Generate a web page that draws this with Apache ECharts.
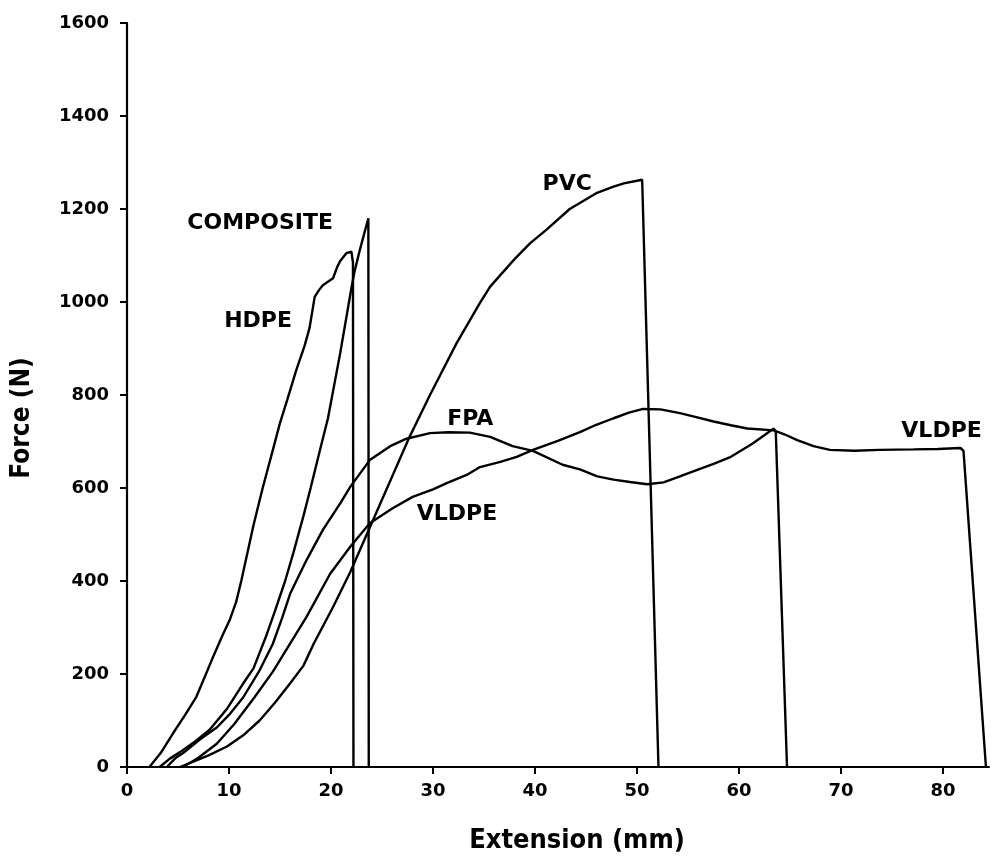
<!DOCTYPE html>
<html>
<head>
<meta charset="utf-8">
<script src="https://cdn.jsdelivr.net/npm/echarts@6/dist/echarts.min.js"></script>
<style>
  html, body { margin: 0; padding: 0; background: #ffffff; }
  #chart { width: 992px; height: 865px; }
</style>
</head>
<body>
<div id="chart"></div>
<script>
// ---- data (extension mm, force N) ----
const hdpe = [
  [2.2,0],[3.3,30],[4.5,72],[5.7,112],[6.8,151],[7.7,198],[8.5,240],[9.3,280],[10.1,318],
  [10.7,355],[11.2,400],[11.7,450],[12.4,520],[13.3,600],[14.3,682],[15.0,740],[15.7,789],
  [16.6,854],[17.4,905],[17.9,945],[18.4,1011],[18.8,1025],[19.2,1036],[19.8,1045],[20.2,1051],
  [20.6,1075],[20.9,1088],[21.5,1105],[22.0,1108],[22.15,1085],[22.2,0]
];
const composite = [
  [3.2,0],[4.2,18],[5.2,32],[6.5,52],[8.1,80],[9.8,125],[11.4,180],[12.4,212],[13.7,285],
  [14.5,335],[15.5,400],[16.3,460],[17.3,540],[18.0,600],[18.9,680],[19.7,750],[20.9,890],
  [22.0,1030],[22.3,1065],[22.8,1110],[23.66,1180],[23.7,0]
];
const pvc = [
  [5.2,0],[6.2,9],[8.0,25],[9.8,44],[11.5,70],[13.0,100],[14.5,138],[16.0,180],[17.3,218],
  [18.3,265],[20.2,344],[21.9,420],[23.8,515],[25.8,615],[27.7,710],[29.7,800],[32.3,911],
  [34.6,998],[35.6,1033],[37.9,1090],[39.5,1126],[41.1,1155],[43.4,1200],[46.0,1234],
  [47.7,1248],[48.7,1255],[50.5,1263],[52.1,0]
];
const fpa = [
  [3.9,0],[4.8,20],[5.5,30],[7.2,60],[8.8,85],[10.0,112],[11.4,150],[13.0,208],[14.3,265],
  [15.2,320],[16.0,373],[17.6,445],[19.2,510],[20.9,567],[21.9,603],[23.8,660],[25.8,690],
  [27.4,706],[29.7,718],[31.5,720],[33.6,719],[35.6,710],[37.8,690],[39.8,680],[42.7,650],
  [44.4,640],[46.1,625],[47.7,618],[49.3,613],[51.0,608],[52.6,612],[54.2,625],[55.9,639],
  [57.5,652],[59.2,667],[61.3,695],[63.4,728],[63.6,720],[64.7,0]
];
const vldpe = [
  [5.5,0],[7.0,20],[8.8,50],[10.5,92],[12.5,150],[14.3,205],[15.7,255],[17.6,323],[19.9,415],
  [21.9,474],[23.8,524],[26.0,556],[28.0,581],[30.0,597],[31.4,611],[33.3,628],[34.6,645],
  [36.6,656],[38.2,667],[39.8,682],[42.3,702],[44.4,720],[46.0,736],[47.7,750],[49.2,762],
  [50.6,770],[52.3,769],[54.2,761],[55.9,752],[57.5,743],[59.2,735],[60.8,728],[63.4,724],
  [64.5,715],[65.7,703],[67.3,690],[68.9,682],[71.3,680],[73.8,682],[77.1,683],[79.5,684],
  [81.7,686],[82.0,680],[84.2,0]
];
const curveLabels = [
  ['COMPOSITE', 13.1, 1168],
  ['HDPE', 12.9, 957],
  ['PVC', 43.2, 1252],
  ['FPA', 33.7, 746],
  ['VLDPE', 32.4, 542],
  ['VLDPE', 79.9, 720]
];
const xTicks = [0,10,20,30,40,50,60,70,80];
const xTitle = 'Extension (mm)';
const yTitle = 'Force (N)';

// ---- chart ----
const chart = echarts.init(document.getElementById('chart'), null, { renderer: 'canvas' });
const lineStyle = { color: '#000', width: 2.4 };
function curve(name, data) {
  return {
    name, type: 'line', data, showSymbol: false, symbol: 'none',
    lineStyle, smooth: false, silent: true, z: 3
  };
}
chart.setOption({
  animation: false,
  backgroundColor: '#ffffff',
  grid: { left: 127, right: 3, top: 23, bottom: 98, containLabel: false },
  xAxis: {
    type: 'value', min: 0, max: 84.5, interval: 10,
    name: xTitle, nameLocation: 'middle', nameGap: 60,
    nameTextStyle: { fontFamily: 'DejaVu Sans Condensed', fontWeight: 'bold', fontSize: 27, color: '#000', padding: [0,0,0,38] },
    axisLine: { show: true, lineStyle: { color: '#000', width: 2.2 } },
    axisTick: { show: true, inside: false, length: 7, lineStyle: { color: '#000', width: 2 }, customValues: xTicks },
    axisLabel: { customValues: xTicks, margin: 15, fontFamily: 'DejaVu Sans', fontWeight: 'bold', fontSize: 18, color: '#000' },
    splitLine: { show: false }
  },
  yAxis: {
    type: 'value', min: 0, max: 1600, interval: 200,
    name: yTitle, nameLocation: 'middle', nameGap: 92, nameRotate: 90,
    nameTextStyle: { fontFamily: 'DejaVu Sans Condensed', fontWeight: 'bold', fontSize: 26, color: '#000', padding: [0,46,0,0] },
    axisLine: { show: true, lineStyle: { color: '#000', width: 2.2 } },
    axisTick: { show: true, inside: false, length: 7, lineStyle: { color: '#000', width: 2 } },
    axisLabel: { margin: 18, formatter: v => String(v), fontFamily: 'DejaVu Sans', fontWeight: 'bold', fontSize: 18, color: '#000' },
    splitLine: { show: false }
  },
  series: [
    curve('HDPE', hdpe),
    curve('COMPOSITE', composite),
    curve('PVC', pvc),
    curve('FPA', fpa),
    curve('VLDPE', vldpe),
    {
      name: 'labels', type: 'scatter', silent: true, z: 5,
      symbolSize: 1,
      itemStyle: { color: 'rgba(0,0,0,0)', opacity: 1 },
      data: curveLabels.map(d => [d[1], d[2], d[0]]),
      label: {
        show: true, position: [0, 0], align: 'center', verticalAlign: 'middle',
        formatter: p => p.data[2],
        fontFamily: 'DejaVu Sans', fontWeight: 'bold', fontSize: 22, color: '#000', opacity: 1
      }
    }
  ]
});
</script>
</body>
</html>
